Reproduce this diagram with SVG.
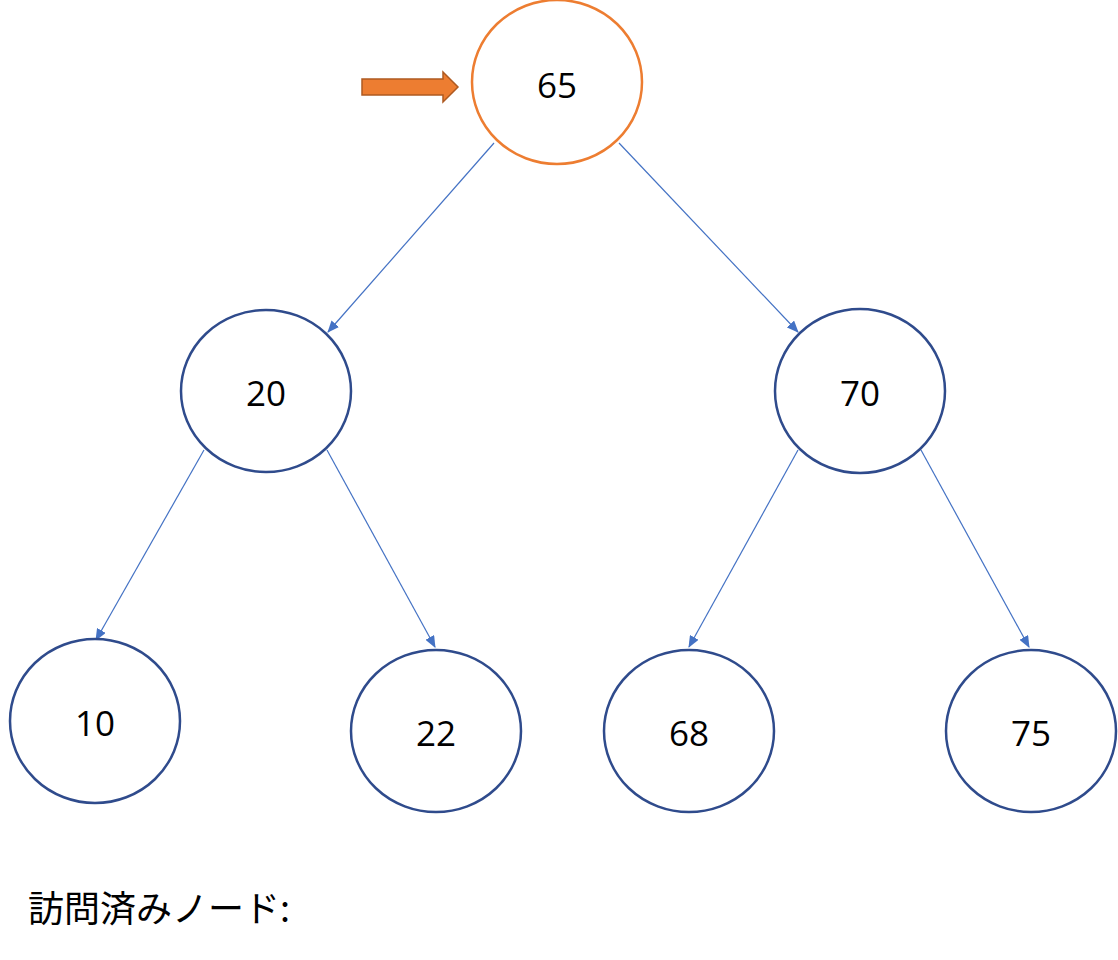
<svg xmlns="http://www.w3.org/2000/svg" width="1118" height="960" viewBox="0 0 1118 960">
<style>
.n{fill:#fff;stroke:#2f4b8c;stroke-width:2.5}
.t{font-family:"Open Sans","Liberation Sans",sans-serif;font-size:35px;fill:#000;text-anchor:middle;dominant-baseline:central}
.e{stroke:#4472c4;stroke-width:1.2;fill:none;marker-end:url(#a)}
</style>
<defs><marker id="a" markerWidth="12" markerHeight="10" refX="11" refY="5" orient="auto" markerUnits="userSpaceOnUse"><path d="M0,0 L12,5 L0,10 z" fill="#4472c4"/></marker></defs>
<rect width="1118" height="960" fill="#fff"/>
<g id="connectors">
<line class="e" x1="494" y1="143" x2="328" y2="332"/>
<line class="e" x1="619" y1="143" x2="798" y2="332"/>
<line class="e" x1="204" y1="450" x2="96" y2="640"/>
<line class="e" x1="327" y1="450" x2="435" y2="647"/>
<line class="e" x1="798" y1="450" x2="689" y2="647"/>
<line class="e" x1="921" y1="450" x2="1029" y2="647"/>
</g>
<g id="pointer"><path d="M362,79 H443 V72 L458,87 L443,102 V95 H362 Z" fill="#ed7d31" stroke="#ae5a21" stroke-width="1.5"/></g>
<g id="n65"><ellipse cx="557" cy="82" rx="85" ry="82" fill="#fff" stroke="#ed7d31" stroke-width="2.5"/><text class="t" x="557" y="84">65</text></g>
<g id="n20"><ellipse class="n" cx="266" cy="391" rx="85" ry="81"/><text class="t" x="266" y="392">20</text></g>
<g id="n70"><ellipse class="n" cx="860" cy="391" rx="85" ry="82"/><text class="t" x="860" y="392">70</text></g>
<g id="n10"><ellipse class="n" cx="95" cy="721" rx="85" ry="82"/><text class="t" x="95" y="722">10</text></g>
<g id="n22"><ellipse class="n" cx="436" cy="731" rx="85" ry="81"/><text class="t" x="436" y="732">22</text></g>
<g id="n68"><ellipse class="n" cx="689" cy="731" rx="85" ry="81"/><text class="t" x="689" y="732">68</text></g>
<g id="n75"><ellipse class="n" cx="1031" cy="731" rx="85" ry="81"/><text class="t" x="1031" y="732">75</text></g>
<text x="28" y="922" font-family="'Noto Sans CJK JP',sans-serif" font-size="36">訪問済みノード:</text>
</svg>
